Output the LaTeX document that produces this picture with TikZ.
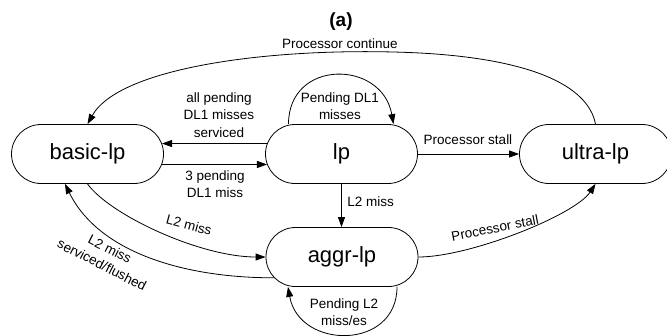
\documentclass[tikz,border=0pt]{standalone}
\usepackage{fontspec}
\setmainfont{Liberation Sans}
\usetikzlibrary{shapes.misc,arrows.meta}
\begin{document}
\begin{tikzpicture}[x=1pt,y=-1pt,
  line width=0.8pt,
  state/.style={draw, rounded rectangle, minimum width=152pt, minimum height=59pt,
    inner sep=0pt, font=\fontsize{22}{26}\selectfont},
  lbl/.style={font=\fontsize{13.5}{17.5}\selectfont, align=center, inner sep=0pt},
  arr/.style={-{Triangle[length=10pt,width=7pt]}}]
\useasboundingbox (0,0) rectangle (667,335);

\node[font=\fontsize{19}{22}\selectfont\bfseries] (title) at (341,22) {(a)};

\node[state] (basic) at (87.5,154) {basic-lp};
\node[state] (lp) at (341.5,154) {lp};
\node[state] (ultra) at (595.5,154) {ultra-lp};
\node[state] (aggr) at (342,257) {aggr-lp};

% lp -> basic-lp
\draw[arr] (lp.172) -- (basic.8);
\node[lbl] (l1) at (219,115) {all pending\\DL1 misses\\serviced};
% basic-lp -> lp
\draw[arr] (basic.352) -- (lp.188);
\node[lbl] (l2) at (215,184) {3 pending\\DL1 miss};
% lp self loop
\draw[arr] ([xshift=-53pt]lp.north) to[out=90,in=100,looseness=1.6] ([xshift=52pt]lp.north);
\node[lbl] (l3) at (340,106) {Pending DL1\\misses};
% lp -> ultra-lp
\draw[arr] (lp.east) -- (ultra.west);
\node[lbl] (l4) at (468,140) {Processor stall};
% ultra-lp -> basic-lp
\draw[arr] (ultra.north) .. controls (588,85) and (530,59) .. (420,53)
  .. controls (280,46) and (120,66) .. (basic.north);
\node[lbl] (l5) at (340,44) {Processor continue};
% lp -> aggr-lp
\draw[arr] (lp.south) -- (lp.south |- aggr.north);
\node[lbl, anchor=west] (l6) at (347,202) {L2 miss};
% basic-lp -> aggr-lp
\draw[arr] (basic.south) .. controls (110,215) and (200,257) .. (aggr.west);
\node[lbl, rotate=-15] (l7) at (189,225) {L2 miss};
% aggr-lp -> basic-lp
\draw[arr] (aggr.197) .. controls (190,278) and (100,255) .. (basic.233);
\node[lbl, rotate=-27] (l8) at (106,257) {L2 miss\\serviced/flushed};
% aggr-lp self loop
\draw[arr] ([xshift=55pt]aggr.south) to[out=-90,in=-80,looseness=1.5] ([xshift=-54pt]aggr.south);
\node[lbl] (l9) at (344,312) {Pending L2\\miss/es};
% aggr-lp -> ultra-lp
\draw[arr] (aggr.east) .. controls (470,257) and (575,215) .. (ultra.south);
\node[lbl, rotate=11] (l10) at (495,228) {Processor stall};
\end{tikzpicture}
\end{document}
